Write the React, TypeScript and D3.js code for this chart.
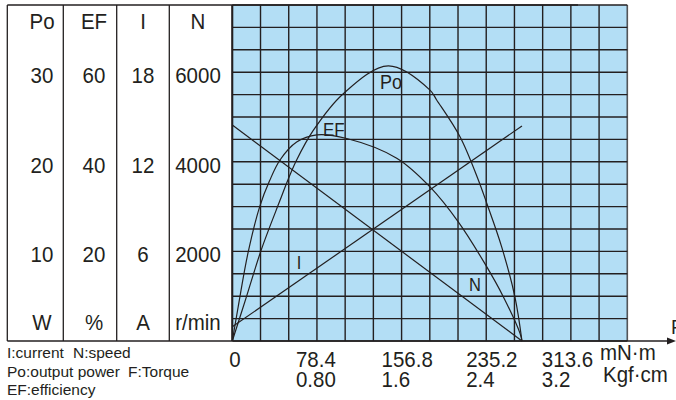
import React from "react";
import * as d3 from "d3";

// ---- data ----
const torqueTicks = [0, 78.4, 156.8, 235.2, 313.6];
const kgfTicks = ["0.80", "1.6", "2.4", "3.2"];
const poTicks = [10, 20, 30];
const efTicks = [20, 40, 60];
const iTicks = [6, 12, 18];
const nTicks = [2000, 4000, 6000];

const poTorque = [0, 13.0, 26.9, 44.2, 51.6, 59.6, 75.0, 102.8, 144.5, 183.1, 189.3, 210.9, 227.8, 235.6, 249.5, 261.8, 268.3];
const poValues = [0, 4.9, 10.2, 15.7, 18.0, 20.2, 23.5, 27.6, 30.7, 28.0, 26.9, 22.8, 18.0, 15.4, 10.5, 4.9, 0];

const efTorque = [0, 5.5, 14.5, 25.4, 34.6, 44.2, 59.6, 78.2, 106.0, 152.3, 183.1, 209.3, 235.6, 251.0, 266.5, 268.3];
const efValues = [0, 7.7, 19.6, 30.0, 35.8, 40.4, 44.4, 46.0, 45.2, 40.8, 34.4, 26.6, 16.6, 9.9, 1.7, 0];

const nTorque = [0, 268.3];
const nValues = [4820, 0];

const iTorque = [0, 268.3];
const iValues = [0.95, 14.4];

// ---- layout ----
const W = 676, H = 400;
const X0 = 232.3, X1 = 627.3, Y0 = 341, Y1 = 5;
const COL = 78.4 / 3;
const FONT = "'Liberation Sans', Arial, Helvetica, sans-serif";
const INK = "#231f20";
const TICK_DX = [0, -21, -20, -20, -29];
const TABLE_X = [7.3, 63.3, 116.7, 169.3, X0];
const TEXT_CX = [42, 94, 143, 198];
const STRETCH = 1.1;

type TProps = { x: number; y: number; size: number; anchor?: string; children: React.ReactNode };
function T({ x, y, size, anchor = "start", children }: TProps) {
  return (
    <text transform={`translate(${x},${y}) scale(1,${STRETCH})`} fontSize={size} fill={INK} textAnchor={anchor}>
      {children}
    </text>
  );
}

export default function App() {
  const x = d3.scaleLinear().domain([0, 14 * COL]).range([X0, X1]);
  const yN = d3.scaleLinear().domain([0, 7500]).range([Y0, Y1]);
  const yPo = d3.scaleLinear().domain([0, 37.5]).range([Y0, Y1]);
  const yEF = d3.scaleLinear().domain([0, 75]).range([Y0, Y1]);
  const yI = d3.scaleLinear().domain([0, 22.5]).range([Y0, Y1]);

  const mk = (ys: d3.ScaleLinear<number, number>, curve = true) =>
    d3.line<[number, number]>()
      .x((d) => x(d[0]))
      .y((d) => ys(d[1]))
      .curve(curve ? d3.curveCatmullRom.alpha(0.5) : d3.curveLinear);

  const zip = (a: number[], b: number[]) => a.map((v, i) => [v, b[i]] as [number, number]);

  const vLines = d3.range(0, 15).map((i) => x(i * COL));
  const hLines = d3.range(0, 16).map((i) => yN(i * 500));

  const colTicks = [
    { head: "Po", unit: "W", ticks: poTicks, s: yPo },
    { head: "EF", unit: "%", ticks: efTicks, s: yEF },
    { head: "I", unit: "A", ticks: iTicks, s: yI },
    { head: "N", unit: "r/min", ticks: nTicks, s: yN },
  ];

  return (
    <svg width={W} height={H} style={{ position: "absolute", left: 0, top: 0, background: "#fff" }} fontFamily={FONT}>
      <rect x={X0} y={Y1} width={X1 - X0} height={Y0 - Y1} fill="#b3def5" />
      {vLines.map((v, i) => (
        <line key={"v" + i} x1={v} x2={v} y1={Y1} y2={Y0} stroke={INK} strokeWidth={i === 14 ? 1.6 : 1.4} strokeOpacity={i === 14 ? 0.75 : 1} />
      ))}
      {hLines.map((h, i) => (
        <line key={"h" + i} x1={X0} x2={X1} y1={h} y2={h} stroke={INK} strokeWidth={1.4} />
      ))}

      {/* curves */}
      <path d={mk(yPo)(zip(poTorque, poValues)) || ""} fill="none" stroke={INK} strokeWidth={1.2} />
      <path d={mk(yEF)(zip(efTorque, efValues)) || ""} fill="none" stroke={INK} strokeWidth={1.2} />
      <path d={mk(yN, false)(zip(nTorque, nValues)) || ""} fill="none" stroke={INK} strokeWidth={1.2} />
      <path d={mk(yI, false)(zip(iTorque, iValues)) || ""} fill="none" stroke={INK} strokeWidth={1.2} />

      <T x={380} y={89} size={18}>Po</T>
      <T x={323} y={136} size={17}>EF</T>
      <T x={299} y={269} size={16.5} anchor="middle">I</T>
      <T x={469} y={291} size={16.5}>N</T>

      {/* table */}
      <line x1={TABLE_X[0]} x2={578} y1={Y1} y2={Y1} stroke={INK} strokeWidth={1.6} />
      <line x1={TABLE_X[0]} x2={X0} y1={Y0} y2={Y0} stroke={INK} strokeWidth={1.6} />
      {TABLE_X.map((tx, i) => (
        <line key={"t" + i} x1={tx} x2={tx} y1={Y1} y2={Y0} stroke={INK} strokeWidth={i === 4 ? 2 : 1.3} />
      ))}
      {colTicks.map((c, ci) => (
        <g key={"c" + ci}>
          <T x={TEXT_CX[ci]} y={29} size={20.5} anchor="middle">{c.head}</T>
          {c.ticks.map((t) => (
            <T key={t} x={TEXT_CX[ci]} y={c.s(t) + 11} size={20.5} anchor="middle">{t}</T>
          ))}
          <T x={TEXT_CX[ci]} y={330} size={20.5} anchor="middle">{c.unit}</T>
        </g>
      ))}

      {/* x axis */}
      <line x1={X0} x2={670} y1={Y0} y2={Y0} stroke={INK} strokeWidth={1.6} />
      <polygon points={`676,${Y0} 667,${Y0 - 3.5} 667,${Y0 + 3.5}`} fill={INK} />
      <T x={671} y={334} size={19}>F</T>
      {torqueTicks.map((t, i) => (
        <T key={"xt" + i} x={x(t) + (i === 0 ? 2.7 : TICK_DX[i])} y={367} size={20.5} anchor={i === 0 ? "middle" : "start"}>{t}</T>
      ))}
      {kgfTicks.map((k, i) => (
        <T key={"kt" + i} x={x(torqueTicks[i + 1]) + TICK_DX[i + 1]} y={387} size={20.5}>{k}</T>
      ))}
      <T x={600} y={360} size={20.5}>mN·m</T>
      <T x={603} y={382} size={20.5}>Kgf·cm</T>

      {/* legend */}
      <g fontSize={15.5} fill={INK}>
        <text x={7} y={358}>I:current</text>
        <text x={73} y={358}>N:speed</text>
        <text x={7} y={376.5}>Po:output power</text>
        <text x={128} y={376.5}>F:Torque</text>
        <text x={7} y={395}>EF:efficiency</text>
      </g>
    </svg>
  );
}
